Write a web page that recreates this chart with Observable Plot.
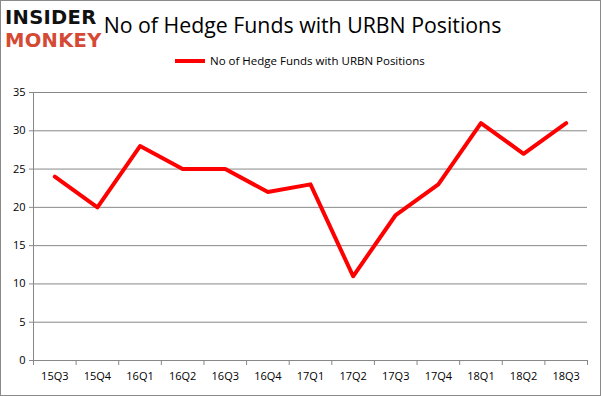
<!DOCTYPE html>
<html><head><meta charset="utf-8">
<script src="https://cdn.jsdelivr.net/npm/d3@7"></script>
<script src="https://cdn.jsdelivr.net/npm/@observablehq/plot@0.6"></script>
<style>
body{margin:0;background:#fff;}
#wrap{position:relative;width:601px;height:396px;font-family:"Open Sans","DejaVu Sans",sans-serif;}
#border{position:absolute;left:0;top:0;width:601px;height:396px;box-sizing:border-box;border:1px solid #8a8a8a;pointer-events:none;}
#title{position:absolute;left:0;width:601px;top:10px;text-align:center;font-size:21.3px;color:#000;padding-left:4px;box-sizing:border-box;}
#legend{position:absolute;top:53px;left:175px;font-size:11.5px;color:#000;display:flex;align-items:center;}
#legend span.sw{display:inline-block;width:30px;height:4px;background:#ff0000;margin-right:5px;}
#logo{position:absolute;left:5px;top:6px;font-family:"DejaVu Sans",sans-serif;font-weight:bold;line-height:23px;font-size:19.5px;letter-spacing:0.3px;}
#logo .a{color:#111;}
#logo .b{color:#d44a34;}
</style></head>
<body>
<div id="wrap">
  <div id="chart"></div>
  <div id="title">No of Hedge Funds with URBN Positions</div>
  <div id="legend"><span class="sw"></span>No of Hedge Funds with URBN Positions</div>
  <div id="logo"><div class="a">INSIDER</div><div class="b">MONKEY</div></div>
  <div id="border"></div>
</div>
<script>
const quarters = ["15Q3","15Q4","16Q1","16Q2","16Q3","16Q4","17Q1","17Q2","17Q3","17Q4","18Q1","18Q2","18Q3"];
const funds = [24,20,28,25,25,22,23,11,19,23,31,27,31];
const yTicks = [0,5,10,15,20,25,30,35];

const data = quarters.map((q,i)=>({i, q, v: funds[i]}));
const idx = quarters.map((_,i)=>i);
const edges = [...idx.map(i=>i-0.5), quarters.length-0.5];

const chart = Plot.plot({
  width: 601, height: 396,
  marginTop: 92, marginBottom: 36, marginLeft: 33, marginRight: 14,
  style: {fontFamily: '"Open Sans","DejaVu Sans",sans-serif', fontSize: "11px", color: "#000", background: "transparent"},
  x: {type: "linear", domain: [-0.5, quarters.length-0.5]},
  y: {domain: [0,35]},
  marks: [
    Plot.gridY(yTicks, {stroke: "#888", strokeOpacity: 1, strokeWidth: 1}),
    Plot.ruleX([-0.5], {stroke: "#888"}),
    Plot.axisY(yTicks, {tickSize: 4, tickPadding: 4, stroke: "#888", label: null, fill: "#000"}),
    Plot.axisX(edges, {tickSize: 5, stroke: "#888", tickFormat: () => "", label: null}),
    Plot.axisX(idx, {tickSize: 0, tickPadding: 12, tickFormat: i => quarters[i], label: null, fill: "#000"}),
    Plot.ruleY([0], {stroke: "#888"}),
    Plot.line(data, {x: "i", y: "v", stroke: "#ff0000", strokeWidth: 4, strokeLinejoin: "round"})
  ]
});
document.getElementById("chart").appendChild(chart);
</script>
</body></html>
